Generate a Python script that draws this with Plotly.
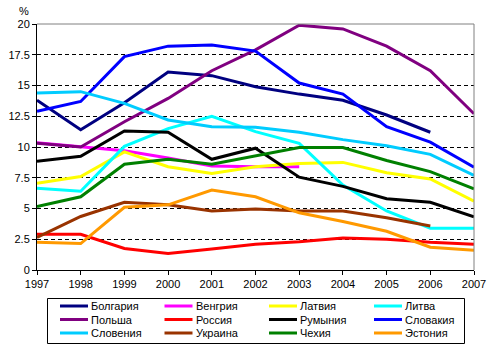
import plotly.graph_objects as go

years = [1997, 1998, 1999, 2000, 2001, 2002, 2003, 2004, 2005, 2006, 2007]

bulgaria  = [13.8, 11.4, 13.6, 16.1, 15.8, 14.9, 14.3, 13.8, 12.6, 11.2, None]
hungary   = [10.35, 10.0, 9.7, 9.1, 8.45, 8.4, 8.4, None, None, None, None]
latvia    = [7.05, 7.6, 9.6, 8.4, 7.85, 8.4, 8.65, 8.75, 7.9, 7.4, 5.6]
lithuania = [6.65, 6.4, 10.05, 11.5, 12.5, 11.25, 10.3, 6.9, 4.8, 3.4, 3.4]
poland    = [10.3, 10.0, 12.05, 13.95, 16.2, 17.9, 19.9, 19.6, 18.2, 16.2, 12.7]
russia    = [2.9, 2.9, 1.75, 1.35, 1.7, 2.1, 2.3, 2.6, 2.5, 2.25, 2.1]
romania   = [8.85, 9.25, 11.3, 11.2, 9.0, 9.9, 7.55, 6.8, 5.8, 5.5, 4.33]
slovakia  = [12.9, 13.7, 17.35, 18.2, 18.3, 17.8, 15.2, 14.3, 11.65, 10.4, 8.35]
slovenia  = [14.4, 14.5, 13.55, 12.2, 11.65, 11.6, 11.2, 10.6, 10.1, 9.4, 7.7]
ukraine   = [2.65, 4.35, 5.5, 5.3, 4.8, 4.95, 4.8, 4.8, 4.25, 3.58, None]
czech     = [5.15, 5.95, 8.6, 9.0, 8.6, 9.25, 9.95, 9.95, 8.9, 8.0, 6.6]
estonia   = [2.25, 2.15, 5.1, 5.3, 6.5, 5.95, 4.65, 3.95, 3.15, 1.85, 1.6]

names = ["Болгария", "Венгрия", "Латвия", "Литва", "Польша", "Россия",
         "Румыния", "Словакия", "Словения", "Украина", "Чехия", "Эстония"]
series = [bulgaria, hungary, latvia, lithuania, poland, russia,
          romania, slovakia, slovenia, ukraine, czech, estonia]
colors = ["#000080", "#FF00FF", "#FFFF00", "#00FFFF", "#800080", "#FF0000",
          "#000000", "#0000FF", "#00CCFF", "#993300", "#008000", "#FF9900"]

y_ticks = [0, 2.5, 5, 7.5, 10, 12.5, 15, 17.5, 20]
y_tick_labels = ["0", "2.5", "5", "7.5", "10", "12.5", "15", "17.5", "20"]

FONT = "Liberation Sans, Arial, sans-serif"

W, H = 493, 355
PL, PR, PT, PB = 37, 474, 24, 270  # plot area in pixels


def px_x(p):
    return (p - PL) / (PR - PL)


def px_y(p):
    return (PB - p) / (PB - PT)


fig = go.Figure()
for name, vals, col in zip(names, series, colors):
    fig.add_trace(go.Scatter(x=years, y=vals, name=name, mode="lines",
                             line=dict(color=col, width=3),
                             connectgaps=False, showlegend=False))

shapes = [
    dict(type="line", xref="paper", yref="paper", x0=0, x1=1, y0=1, y1=1,
         line=dict(color="#808080", width=1)),
    dict(type="line", xref="paper", yref="paper", x0=1, x1=1, y0=0, y1=1,
         line=dict(color="#808080", width=1)),
    # legend box
    dict(type="rect", xref="paper", yref="paper",
         x0=px_x(47.5), x1=px_x(464.5), y0=px_y(343.5), y1=px_y(298.5),
         line=dict(color="black", width=1), fillcolor="white", layer="above"),
]
annotations = [
    dict(text="%", xref="paper", yref="paper", x=px_x(31), y=px_y(19),
         xanchor="right", yanchor="bottom", showarrow=False,
         font=dict(family=FONT, size=11)),
]

col_x = [60, 164.5, 269, 374]
row_y = [306, 319.5, 333]
for i, (name, col) in enumerate(zip(names, colors)):
    cx = col_x[i % 4]
    ry = row_y[i // 4]
    shapes.append(dict(type="line", xref="paper", yref="paper",
                       x0=px_x(cx), x1=px_x(cx + 28), y0=px_y(ry), y1=px_y(ry),
                       line=dict(color=col, width=3), layer="above"))
    annotations.append(dict(text=name, xref="paper", yref="paper",
                            x=px_x(cx + 29), y=px_y(ry), xanchor="left",
                            yanchor="middle", showarrow=False,
                            font=dict(family=FONT, size=11, color="black")))

fig.update_layout(
    width=W, height=H,
    margin=dict(l=PL, r=W - PR, t=PT, b=H - PB, autoexpand=False),
    paper_bgcolor="white", plot_bgcolor="white",
    font=dict(family=FONT, size=11, color="black"),
    showlegend=False,
    xaxis=dict(range=[1997, 2007], tickvals=years, ticktext=[str(y) for y in years],
               showgrid=False, zeroline=False, showline=True, linecolor="black",
               linewidth=1, ticks="outside", ticklen=4, tickcolor="black",
               fixedrange=True, automargin=False),
    yaxis=dict(range=[0, 20], tickvals=y_ticks, ticktext=y_tick_labels,
               showgrid=True, gridcolor="black", griddash="4px,3px", gridwidth=1,
               zeroline=False, showline=True, linecolor="black", linewidth=1,
               ticks="outside", ticklen=4, tickcolor="black", fixedrange=True,
               automargin=False),
    shapes=shapes,
    annotations=annotations,
)

fig.write_html("out.html", config={"displayModeBar": False},
               post_script="document.body.style.margin='0';document.body.style.overflow='hidden';")
